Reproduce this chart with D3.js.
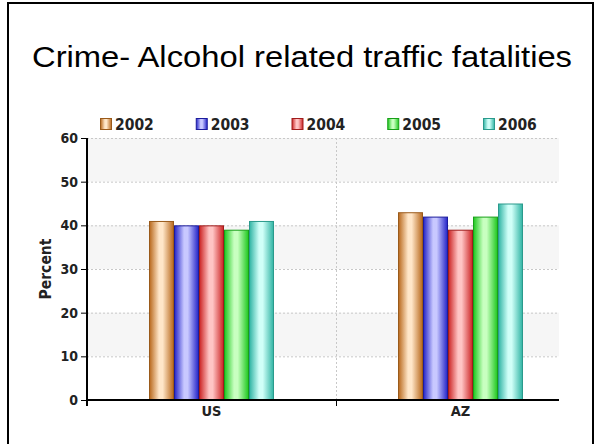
<!DOCTYPE html>
<html><head><meta charset="utf-8">
<script src="https://cdn.jsdelivr.net/npm/d3@7"></script>
<style>
html,body{margin:0;padding:0;background:#fff;}
svg{display:block;}
</style></head>
<body>
<svg id="c" width="596" height="444"></svg>
<script>
const title = "Crime- Alcohol related traffic fatalities";
const categories = ["US", "AZ"];
const years = ["2002", "2003", "2004", "2005", "2006"];
const values2002 = [41, 43];
const values2003 = [40, 42];
const values2004 = [40, 39];
const values2005 = [39, 42];
const values2006 = [41, 45];
const yTicks = [0, 10, 20, 30, 40, 50, 60];
const yLabel = "Percent";
const seriesValues = [values2002, values2003, values2004, values2005, values2006];
const colors = [
  {edge:"#b8681c", mid:"#ffe6c8", stroke:"#9a5a1a"},
  {edge:"#2424c8", mid:"#c8c8ff", stroke:"#1c1c9c"},
  {edge:"#cc2424", mid:"#ffc4c4", stroke:"#a01c1c"},
  {edge:"#1ec81e", mid:"#c8ffc0", stroke:"#18a018"},
  {edge:"#30b4a4", mid:"#d0fff8", stroke:"#2a9a8c"}
];

(function(){
const svg = d3.select("#c");
const pL = 87, pR = 559, pT = 138, pB = 400;
const lblFont = "'DejaVu Sans Condensed', 'DejaVu Sans', Verdana, sans-serif";

// frame
svg.append("rect").attr("x",8).attr("y",3).attr("width",585).attr("height",445)
  .attr("fill","none").attr("stroke","#000").attr("stroke-width",2);

svg.append("text").attr("x",302).attr("y",67).attr("text-anchor","middle")
  .attr("font-family","Liberation Sans, Arial, sans-serif").attr("font-size",30)
  .attr("textLength",540).attr("lengthAdjust","spacingAndGlyphs")
  .attr("fill","#000").text(title);

const defs = svg.append("defs");
colors.forEach((c,i)=>{
  const g = defs.append("linearGradient").attr("id","g"+i).attr("x1","0").attr("x2","1").attr("y1","0").attr("y2","0");
  g.append("stop").attr("offset","0%").attr("stop-color",c.edge);
  g.append("stop").attr("offset","40%").attr("stop-color",c.mid);
  g.append("stop").attr("offset","55%").attr("stop-color",c.mid);
  g.append("stop").attr("offset","100%").attr("stop-color",c.edge);
});

const y = d3.scaleLinear().domain([0,60]).range([pB, pT]);
const x0 = d3.scaleBand().domain(categories).range([pL, pL + 2*249]);
const bw = x0.bandwidth();
const x1 = d3.scaleBand().domain(years).range([(bw-125)/2, (bw+125)/2]);

// alternating bands
const bandPairs = [[10,20],[30,40],[50,60]];
svg.append("g").selectAll("rect").data(bandPairs).join("rect")
  .attr("x",pL).attr("width",pR-pL)
  .attr("y",d=>y(d[1])).attr("height",d=>y(d[0])-y(d[1]))
  .attr("fill","#f6f6f6");

// grid lines
svg.append("g").selectAll("line").data(yTicks.filter(t=>t>0)).join("line")
  .attr("x1",pL).attr("x2",pR).attr("y1",d=>y(d)+0.5).attr("y2",d=>y(d)+0.5)
  .attr("stroke","#c8c8c8").attr("stroke-dasharray","2,2");
svg.append("line").attr("x1",x0("AZ")+0.5).attr("x2",x0("AZ")+0.5)
  .attr("y1",pT).attr("y2",pB).attr("stroke","#c8c8c8").attr("stroke-dasharray","2,2");

// bars
const groups = svg.append("g").selectAll("g").data(categories).join("g")
  .attr("transform",d=>`translate(${x0(d)},0)`);
groups.selectAll("rect").data((d,ci)=>years.map((yr,si)=>({yr,si,v:seriesValues[si][ci]}))).join("rect")
  .attr("x",d=>x1(d.yr)+0.5).attr("width",x1.bandwidth()-1)
  .attr("y",d=>y(d.v)+0.5).attr("height",d=>pB-y(d.v)-0.5)
  .attr("fill",d=>`url(#g${d.si})`).attr("stroke",d=>colors[d.si].stroke).attr("stroke-width",1);

// y axis
const yAxis = svg.append("g").attr("transform",`translate(${pL},0)`)
  .call(d3.axisLeft(y).tickValues(yTicks).tickSize(6).tickPadding(3));
yAxis.select(".domain").remove();
yAxis.selectAll("text").attr("font-family",lblFont).attr("font-weight","bold").attr("font-size",14).attr("fill","#222");
yAxis.selectAll("line").attr("stroke","#000");
svg.append("line").attr("x1",pL).attr("x2",pL).attr("y1",pT).attr("y2",pB+6).attr("stroke","#000").attr("stroke-width",2);

// x axis
const xAxis = svg.append("g").attr("transform",`translate(0,${pB})`)
  .call(d3.axisBottom(x0).tickSize(0).tickPadding(6));
xAxis.select(".domain").remove();
xAxis.selectAll("text").attr("font-family",lblFont).attr("font-weight","bold").attr("font-size",14.5).attr("fill","#222");
svg.append("line").attr("x1",pL).attr("x2",pR).attr("y1",pB).attr("y2",pB).attr("stroke","#000").attr("stroke-width",2);
svg.append("line").attr("x1",x0("AZ")+0.5).attr("x2",x0("AZ")+0.5).attr("y1",pB).attr("y2",pB+6).attr("stroke","#000");

// y label
svg.append("text").attr("transform","translate(51,269) rotate(-90)").attr("text-anchor","middle")
  .attr("font-family",lblFont).attr("font-weight","bold").attr("font-size",15.5)
  .attr("fill","#222").text(yLabel);

// legend
const legX = d3.scalePoint().domain(years).range([100, 483]);
const leg = svg.append("g").selectAll("g").data(years).join("g")
  .attr("transform",d=>`translate(${legX(d)},118)`);
leg.append("rect").attr("x",0.5).attr("y",0.5).attr("width",11).attr("height",11)
  .attr("fill",(d,i)=>`url(#g${i})`).attr("stroke",(d,i)=>colors[i].stroke);
leg.append("text").attr("x",15).attr("y",11.5).attr("font-family",lblFont)
  .attr("font-weight","bold").attr("font-size",15.5).attr("fill","#222").text(d=>d);
})();
</script>
</body></html>
